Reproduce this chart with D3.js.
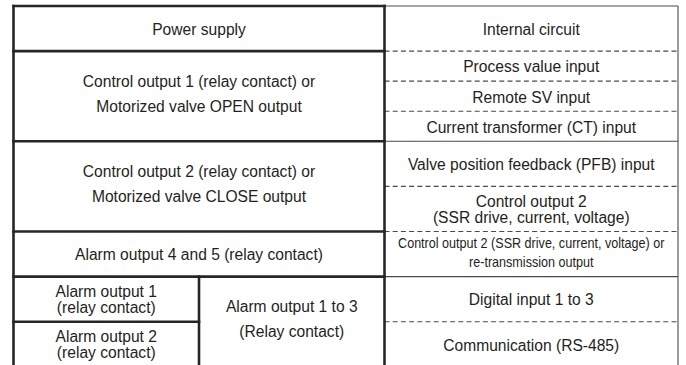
<!DOCTYPE html>
<html><head><meta charset="utf-8">
<script src="https://cdn.jsdelivr.net/npm/d3@7"></script>
<style>body{margin:0;background:#fff}svg{display:block}</style>
</head><body>
<svg id="c" width="686" height="365"></svg>
<script>
// ---- data ----
const leftLabels = [
  ["Power supply"],
  ["Control output 1 (relay contact) or", "Motorized valve OPEN output"],
  ["Control output 2 (relay contact) or", "Motorized valve CLOSE output"],
  ["Alarm output 4 and 5 (relay contact)"]
];
const leftRows = [1, 2, 2, 1];
const alarmLabels = [["Alarm output 1", "(relay contact)"], ["Alarm output 2", "(relay contact)"]];
const alarmRows = [1, 1];
const alarmGroupLabel = ["Alarm output 1 to 3", "(Relay contact)"];
const rightLabels = [
  ["Internal circuit"],
  ["Process value input"],
  ["Remote SV input"],
  ["Current transformer (CT) input"],
  ["Valve position feedback (PFB) input"],
  ["Control output 2", "(SSR drive, current, voltage)"],
  ["Control output 2 (SSR drive, current, voltage) or", "re-transmission output"],
  ["Digital input 1 to 3"],
  ["Communication (RS-485)"]
];
const rightRows = [1, 2/3, 2/3, 2/3, 1, 1, 1, 1, 1];
const rightDividers = ["dashed", "dashed", "dashed", "solid", "dashed", "dashed", "solid", "dashed"];

// ---- layout ----
const W = 686, H = 365;
const svg = d3.select("#c");
svg.append("rect").attr("width", W).attr("height", H).attr("fill", "#fff");
const totalRows = d3.sum(leftRows) + d3.sum(alarmRows);
const y = d3.scaleLinear().domain([0, totalRows]).range([6, 366.8]);
const x = d3.scaleLinear().domain([0, 1, 2, 3]).range([13.5, 199, 384.5, 678]);
const TEXT = "#231f20", THICK = "#262626", THIN = "#4a4a4a";
const FONT = "'Liberation Sans', Arial, Helvetica, sans-serif";

const cells = [];
function addCells(labels, rows, offset, c0, c1) {
  const cum = Array.from(d3.cumsum(rows));
  labels.forEach((lines, i) => {
    cells.push({lines, span: rows[i], y0: y(offset + cum[i] - rows[i]), y1: y(offset + cum[i]), x0: x(c0), x1: x(c1)});
  });
}
addCells(leftLabels, leftRows, 0, 0, 2);
addCells(alarmLabels, alarmRows, d3.sum(leftRows), 0, 1);
addCells([alarmGroupLabel], [d3.sum(alarmRows)], d3.sum(leftRows), 1, 2);
addCells(rightLabels, rightRows, 0, 2, 3);

// ---- thin right block ----
const g = svg.append("g");
g.append("line").attr("x1", x(2)).attr("x2", x(3)).attr("y1", y(0)).attr("y2", y(0))
  .attr("stroke", THIN).attr("stroke-width", 1.1);
g.append("line").attr("x1", x(3)).attr("x2", x(3)).attr("y1", y(0)).attr("y2", H + 2)
  .attr("stroke", THIN).attr("stroke-width", 1.1);
const rcum = Array.from(d3.cumsum(rightRows));
g.selectAll("line.rd").data(rightDividers).join("line").attr("class", "rd")
  .attr("x1", x(2)).attr("x2", x(3))
  .attr("y1", (d, i) => y(rcum[i])).attr("y2", (d, i) => y(rcum[i]))
  .attr("stroke", THIN).attr("stroke-width", 1.1)
  .attr("stroke-dasharray", d => d === "dashed" ? "5,3.2" : null);

// ---- thick left block ----
const lcum = Array.from(d3.cumsum(leftRows));
const thick = [
  [x(0), y(0), x(2), y(0)],
  [x(0), y(0), x(0), H + 3],
  [x(2), y(0), x(2), H + 3],
  [x(1), y(d3.sum(leftRows)), x(1), H + 3],
  [x(0), y(d3.sum(leftRows) + alarmRows[0]), x(1), y(d3.sum(leftRows) + alarmRows[0])]
].concat(lcum.map(c => [x(0), y(c), x(2), y(c)]));
svg.append("g").selectAll("line").data(thick).join("line")
  .attr("x1", d => d[0]).attr("y1", d => d[1]).attr("x2", d => d[2]).attr("y2", d => d[3])
  .attr("stroke", THICK).attr("stroke-width", 2.6).attr("stroke-linecap", "square");

// ---- text ----
const tg = svg.append("g").attr("font-family", FONT).attr("fill", TEXT).attr("text-anchor", "middle");
cells.forEach(c => {
  const small = c.lines.some(l => l.length > 40);
  const n = c.lines.length;
  const fs = small ? 14 : 15.6;
  const cx = (c.x0 + c.x1) / 2;
  const cy = (c.y0 + c.y1) / 2;
  let spacing, shift;
  if (small) { spacing = 19; shift = -3; }
  else if (c.span >= 2) { spacing = 25; shift = -3.5; }
  else { spacing = 16.4; shift = -0.5; }
  if (n === 1) shift = 0;
  c.lines.forEach((line, i) => {
    const ty = cy + 6.3 + shift + (i - (n - 1) / 2) * spacing;
    tg.append("text")
      .attr("transform", `translate(${cx},${ty}) scale(${small ? 0.9 : 1},1)`)
      .attr("font-size", fs)
      .text(line);
  });
});
</script>
</body></html>
